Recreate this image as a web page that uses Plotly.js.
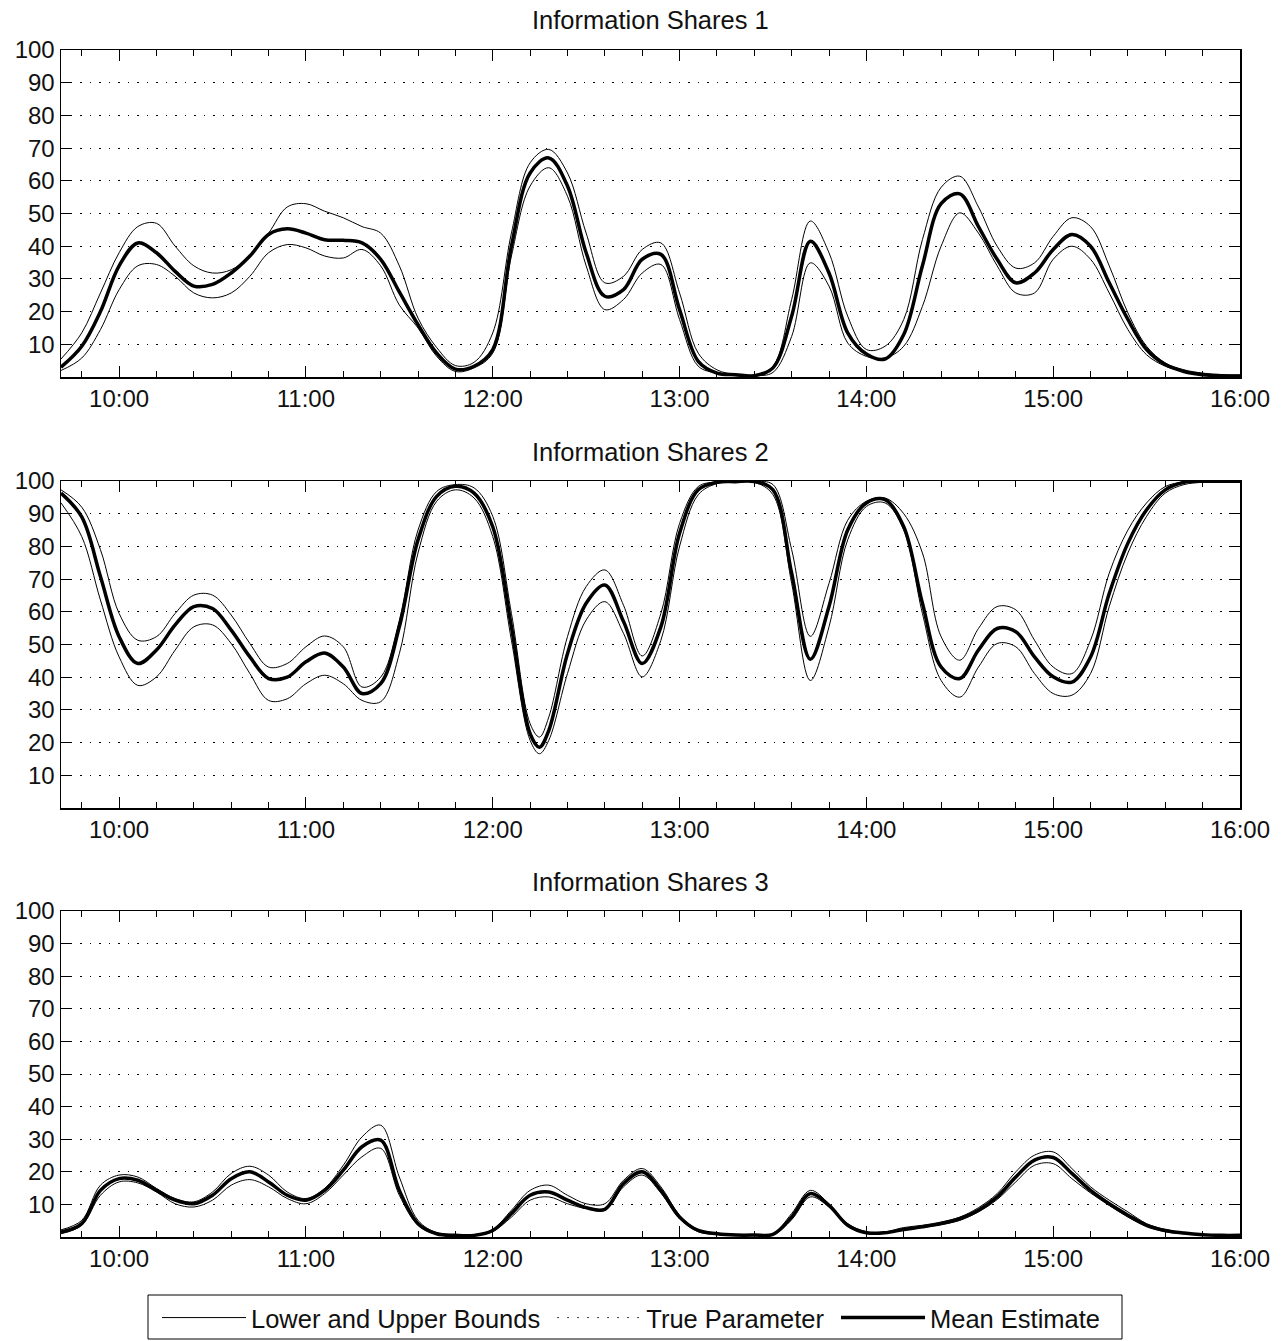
<!DOCTYPE html>
<html>
<head>
<meta charset="utf-8">
<script src="https://cdn.plot.ly/plotly-3.0.1.min.js"></script>
<style>html,body{margin:0;padding:0;background:#fff}#chart{width:1281px;height:1341px}</style>
</head>
<body>
<div id="chart"></div>
<script>
// ---------------- DATA ----------------
const timesBase = ["09:41:20","09:48","09:54","10:00","10:06","10:12","10:18","10:24","10:30","10:36","10:42","10:48","10:54","11:00","11:06","11:12","11:18","11:24","11:30","11:36","11:42","11:48","11:54","12:00","12:06","12:12","12:18","12:24","12:30","12:36","12:42","12:48","12:54","13:00","13:06","13:12","13:18","13:24","13:30","13:36","13:42","13:48","13:54","14:00","14:06","14:12","14:18","14:24","14:30","14:36","14:42","14:48","14:54","15:00","15:06","15:12","15:18","15:24","15:30","15:36","15:42","15:48","15:54","16:00"];
const times2 = ["09:41:20","09:48","09:54","10:00","10:06","10:12","10:18","10:24","10:30","10:36","10:42","10:48","10:54","11:00","11:06","11:12","11:18","11:24","11:30","11:36","11:42","11:48","11:54","12:00","12:06","12:12","12:15","12:18","12:24","12:30","12:36","12:42","12:48","12:54","13:00","13:06","13:12","13:18","13:24","13:30","13:36","13:42","13:48","13:54","14:00","14:06","14:12","14:18","14:24","14:30","14:36","14:42","14:48","14:54","15:00","15:06","15:12","15:18","15:24","15:30","15:36","15:42","15:48","15:54","16:00"];

// Information Shares 1
const mean1  = [3,9.4,20,34,41,38,32.3,27.8,28.3,31.8,37,43.6,45.3,44,42,41.8,41,36,26,16,7.3,2.4,3.3,8.4,40,62.4,67,58.4,38,24.7,26.7,36,37.5,20.6,4.8,1.2,0.7,0.4,2.8,18.6,41.5,31.8,13.5,7,5.5,13,34,53,56,46,36,28.8,31.8,39,43.6,40,28.8,17.6,8.4,3.8,1.7,0.7,0.4,0.3];
const upper1 = [5.5,13.5,25.7,38,46,47,40,34,31.8,32.8,37,44,52,53,50.7,48.7,46,44,34,18,9,3.5,4.5,13.5,44,65.5,69.6,62.4,44,28.8,30.8,39,41,25.7,7.3,2.2,0.8,0.6,3.3,23.7,47.7,38,18.6,8.4,9.4,17.6,42,58,61.4,52,40,33.3,34.9,43,48.7,46,34,19.6,9.4,4.3,2.2,1.2,0.7,0.6];
const lower1 = [2,5.8,14.5,26.7,34,34.4,30.8,25.7,24.2,25.7,30.8,38,40.5,39.5,37,36.4,39,34,22,15,6.3,1.7,2.8,7.3,37,58.4,64,55.3,34,20.6,23.7,31.8,34.4,17.6,3.3,1.2,0.4,0.4,1.4,12.4,34.9,27.8,10.4,6.3,5.8,9.4,21.6,40,50.2,44,34,25.7,25.7,36,40,36,25.7,14.5,6.8,3.3,1.7,0.7,0.4,0.4];
const true1  = [3,9.3,20,34,41,38,32.3,27.8,28.3,31.8,37,43.6,45.3,44,42,41.8,41,36,26,16,7.3,2.4,3.3,8.4,40,62.4,67,58.4,38,24.7,26.7,36,37.5,20.6,4.8,1.2,0.7,0.4,2.8,18.6,41.5,31.8,13.5,7,5.5,13,34,53,56,46,36,28.8,31.8,39,43.6,40,28.8,17.6,8.4,3.8,1.7,0.7,0.4,0.3];

// Information Shares 2
const mean2  = [96.3,89,70.8,52.4,44.2,48.3,56,61.6,61,54.4,46.2,39.6,40,44.7,47.4,43.1,35,38,55.4,82,95.3,98.4,96.3,86,55.4,22.7,18.6,23.7,47.2,62.6,68.2,57,44.2,55.4,84,97.3,99.6,99.8,99.8,97.3,71.8,45.5,61.6,85,93.3,94.3,86,62.6,43.1,39.6,48.3,54.9,53.9,46.2,40.1,38.5,46.2,65.6,81,91.2,97.3,99.6,99.9,99.9,99.9];
const upper2 = [97.3,92,79,59.5,51.3,52.4,59.5,65.1,65.1,59,50.3,43.1,44.2,49.3,52.6,49.3,37,40,57.4,85,96.8,98.9,97.9,89.2,59.5,25.8,21.7,27.8,52.4,67.7,72.8,62,46.5,59.5,87,98.3,99.7,99.8,99.8,98.9,79,52.5,68.7,88,93.8,94.8,90,78,52.4,45.2,54.9,61.6,60.6,51.3,43.1,41.1,51.3,71.8,85,93.3,98.3,99.7,99.9,99.9,99.9];
const lower2 = [93.3,83,63.6,46.2,37.5,40.1,48.3,55.4,56,50.3,41.1,32.9,33.4,38,40.6,38,32.9,32.5,47.2,78,93.8,97.3,94.8,83,51.3,20.7,16.6,20.7,41.1,57.5,63.1,53.4,40.1,51.3,80,95.8,99.2,99.6,99.6,95.8,68.7,39,55.4,82,92.2,93.3,85,59.5,39,33.9,43.1,50.3,49.3,41.1,35,34.5,41.1,61.6,78,89.2,96.3,98.9,99.6,99.8,99.9];
const true2  = [96.3,89,70.8,52.4,44.2,48.3,56,61.6,61,54.4,46.2,39.6,40,44.7,47.4,43.1,35,38,55.4,82,95.3,98.4,96.3,86,55.4,22.7,18.6,23.7,47.2,62.6,68.2,57,44.2,55.4,84,97.3,99.6,99.8,99.8,97.3,71.8,45.5,61.6,85,93.3,94.3,86,62.6,43.1,39.6,48.3,54.9,53.9,46.2,40.1,38.5,46.2,65.6,81,91.2,97.3,99.6,99.9,99.9,99.9];

// Information Shares 3
const mean3  = [1.5,4.1,14.3,17.9,17.4,14.3,11.3,10.2,12.8,17.9,20,16.9,12.8,11.3,14.3,20.5,27.7,29.7,14.3,4.1,1,0.5,0.5,2,7.2,12.8,13.8,11.3,9,8.5,16.4,20,14.3,6.1,2,1,0.6,0.6,0.8,6.1,13.3,9.7,3.6,1.3,1.3,2.3,3.1,4.1,5.6,8.2,12.3,18.4,23.6,24.4,19.5,14.3,10.2,6.7,3.6,2,1.2,0.7,0.5,0.5];
const upper3 = [2.2,5.1,15.9,19,18.4,14.9,11.8,10.8,13.8,19.5,21.7,19,13.8,11.8,14.9,22,30.7,34.3,18.4,5.1,1.3,0.7,0.7,2.3,8.2,14.3,15.9,12.8,10.2,10.2,17.4,21,15.4,6.7,2.2,1.2,0.8,0.8,1,7.2,14.3,10.2,4.1,1.6,1.6,2.9,3.6,4.6,6.1,9,13.3,20,25.1,26.1,21,15.4,11.3,7.7,4.1,2.3,1.3,0.8,0.6,0.6];
const lower3 = [1,3.6,12.8,16.9,16.6,13.8,10.2,9.2,11.3,15.9,17.6,15.4,11.8,10.2,13.3,19,24.6,27.2,12.8,3.6,0.8,0.4,0.4,1.7,6.1,11.3,12.3,10.2,8.7,8.2,15.4,19,13.5,5.6,1.6,0.8,0.5,0.5,0.6,5.3,12.3,9.2,3.3,1.1,1.1,2.3,2.9,3.8,5.1,7.7,11.5,16.9,22,22.5,17.9,13.5,9.7,6.1,3.3,1.6,1,0.6,0.4,0.4];
const true3  = [1.5,4.1,14.3,17.9,17.4,14.3,11.3,10.2,12.8,17.9,20,16.9,12.8,11.3,14.3,20.5,27.7,29.7,14.3,4.1,1,0.5,0.5,2,7.2,12.8,13.8,11.3,9,8.5,16.4,20,14.3,6.1,2,1,0.6,0.6,0.8,6.1,13.3,9.7,3.6,1.3,1.3,2.3,3.1,4.1,5.6,8.2,12.3,18.4,23.6,24.4,19.5,14.3,10.2,6.7,3.6,2,1.2,0.7,0.5,0.5];

const panelTitles = ["Information Shares 1","Information Shares 2","Information Shares 3"];
const yTickVals = [10,20,30,40,50,60,70,80,90,100];
const legendNames = ["Lower and Upper Bounds\u00a0","True Parameter\u00a0","Mean Estimate"];

// ---------------- BUILD ----------------
const day = "2000-01-01 ";
const toDate = arr => arr.map(t => day + t);

const panels = [
  {t: timesBase, lo: lower1, up: upper1, mean: mean1, tr: true1},
  {t: times2,    lo: lower2, up: upper2, mean: mean2, tr: true2},
  {t: timesBase, lo: lower3, up: upper3, mean: mean3, tr: true3}
];

const FONT = "Liberation Sans, Arial, Helvetica, sans-serif";
const TXT = "#111";
const traces = [];
panels.forEach((p, i) => {
  const xa = i === 0 ? "x" : "x" + (i + 1);
  const ya = i === 0 ? "y" : "y" + (i + 1);
  const first = i === 0;
  const xs = toDate(p.t);
  traces.push({x: xs, y: p.lo, xaxis: xa, yaxis: ya, mode: "lines", name: legendNames[0],
    legendgroup: "b", showlegend: first, line: {color: "#000", width: 1, shape: "spline", smoothing: 1}});
  traces.push({x: xs, y: p.up, xaxis: xa, yaxis: ya, mode: "lines", name: legendNames[0],
    legendgroup: "b", showlegend: false, line: {color: "#000", width: 1, shape: "spline", smoothing: 1}});
  traces.push({x: xs, y: p.tr, xaxis: xa, yaxis: ya, mode: "lines", name: legendNames[1],
    legendgroup: "t", showlegend: first, line: {color: "#000", width: 1, dash: "1.5px,8.5px", shape: "spline", smoothing: 1}});
  traces.push({x: xs, y: p.mean, xaxis: xa, yaxis: ya, mode: "lines", name: legendNames[2],
    legendgroup: "m", showlegend: first, line: {color: "#000", width: 3.5, shape: "spline", smoothing: 1}});
});

// pixel geometry
const H = 1341, W = 1281;
const plotTop = 50, plotBottom = 1237;
const mT = plotTop, mB = H - plotBottom, span = plotBottom - plotTop;
const py = y => (plotBottom - y) / span;
const pxx = x => (x - 61) / 1179;
const boxes = [[50, 377], [481, 808], [911, 1237]];
const titleY = [20, 452, 882];

const layout = {
  width: W, height: H,
  margin: {l: 61, r: 41, t: mT, b: mB, pad: 0},
  paper_bgcolor: "#fff", plot_bgcolor: "#fff",
  font: {family: FONT, size: 24, color: TXT},
  showlegend: true,
  legend: {orientation: "h", xref: "container", yref: "container",
    x: 157 / W, xanchor: "left", y: 1 - 1318 / H, yanchor: "middle",
    borderwidth: 0, font: {family: FONT, size: 25.5, color: TXT},
    itemwidth: 84, traceorder: "normal", bgcolor: "rgba(0,0,0,0)"},
  shapes: [{type: "rect", xref: "paper", yref: "paper", x0: pxx(148), x1: pxx(1122), y0: py(1339), y1: py(1295),
    line: {color: "#000", width: 1}, fillcolor: "rgba(0,0,0,0)", layer: "above"}],
  annotations: panelTitles.map((txt, i) => ({
    text: txt, xref: "paper", yref: "paper", x: 0.5, y: py(titleY[i]), xanchor: "center", yanchor: "middle",
    showarrow: false, font: {family: FONT, size: 25.5, color: TXT}
  }))
};

boxes.forEach((b, i) => {
  const sfx = i === 0 ? "" : String(i + 1);
  layout["xaxis" + sfx] = {
    type: "date", domain: [0, 1], anchor: "y" + sfx,
    range: [day + "09:41:20", day + "16:00"],
    tick0: day + "10:00", dtick: 3600000, tickformat: "%H:%M",
    ticks: "inside", ticklen: 11, tickwidth: 1, tickcolor: "#000",
    showline: true, linecolor: "#000", linewidth: 1.5, mirror: "ticks",
    showgrid: false, zeroline: false,
    tickfont: {family: FONT, size: 24, color: TXT},
    minor: {tick0: day + "10:00", dtick: 720000, ticks: "inside", ticklen: 6, tickwidth: 1, tickcolor: "#000", showgrid: false},
    fixedrange: true
  };
  layout["yaxis" + sfx] = {
    domain: [py(b[1]), py(b[0])], anchor: "x" + sfx,
    range: [0, 100], tickvals: yTickVals, ticktext: yTickVals.map(String),
    ticks: "inside", ticklen: 11, tickwidth: 1, tickcolor: "#000",
    showline: true, linecolor: "#000", linewidth: 1.5, mirror: "ticks",
    showgrid: true, gridcolor: "#000", gridwidth: 1, griddash: "1.5px,8px",
    zeroline: false, tickfont: {family: FONT, size: 24, color: TXT},
    fixedrange: true
  };
});

Plotly.newPlot("chart", traces, layout, {staticPlot: true, displayModeBar: false});
</script>
</body>
</html>
